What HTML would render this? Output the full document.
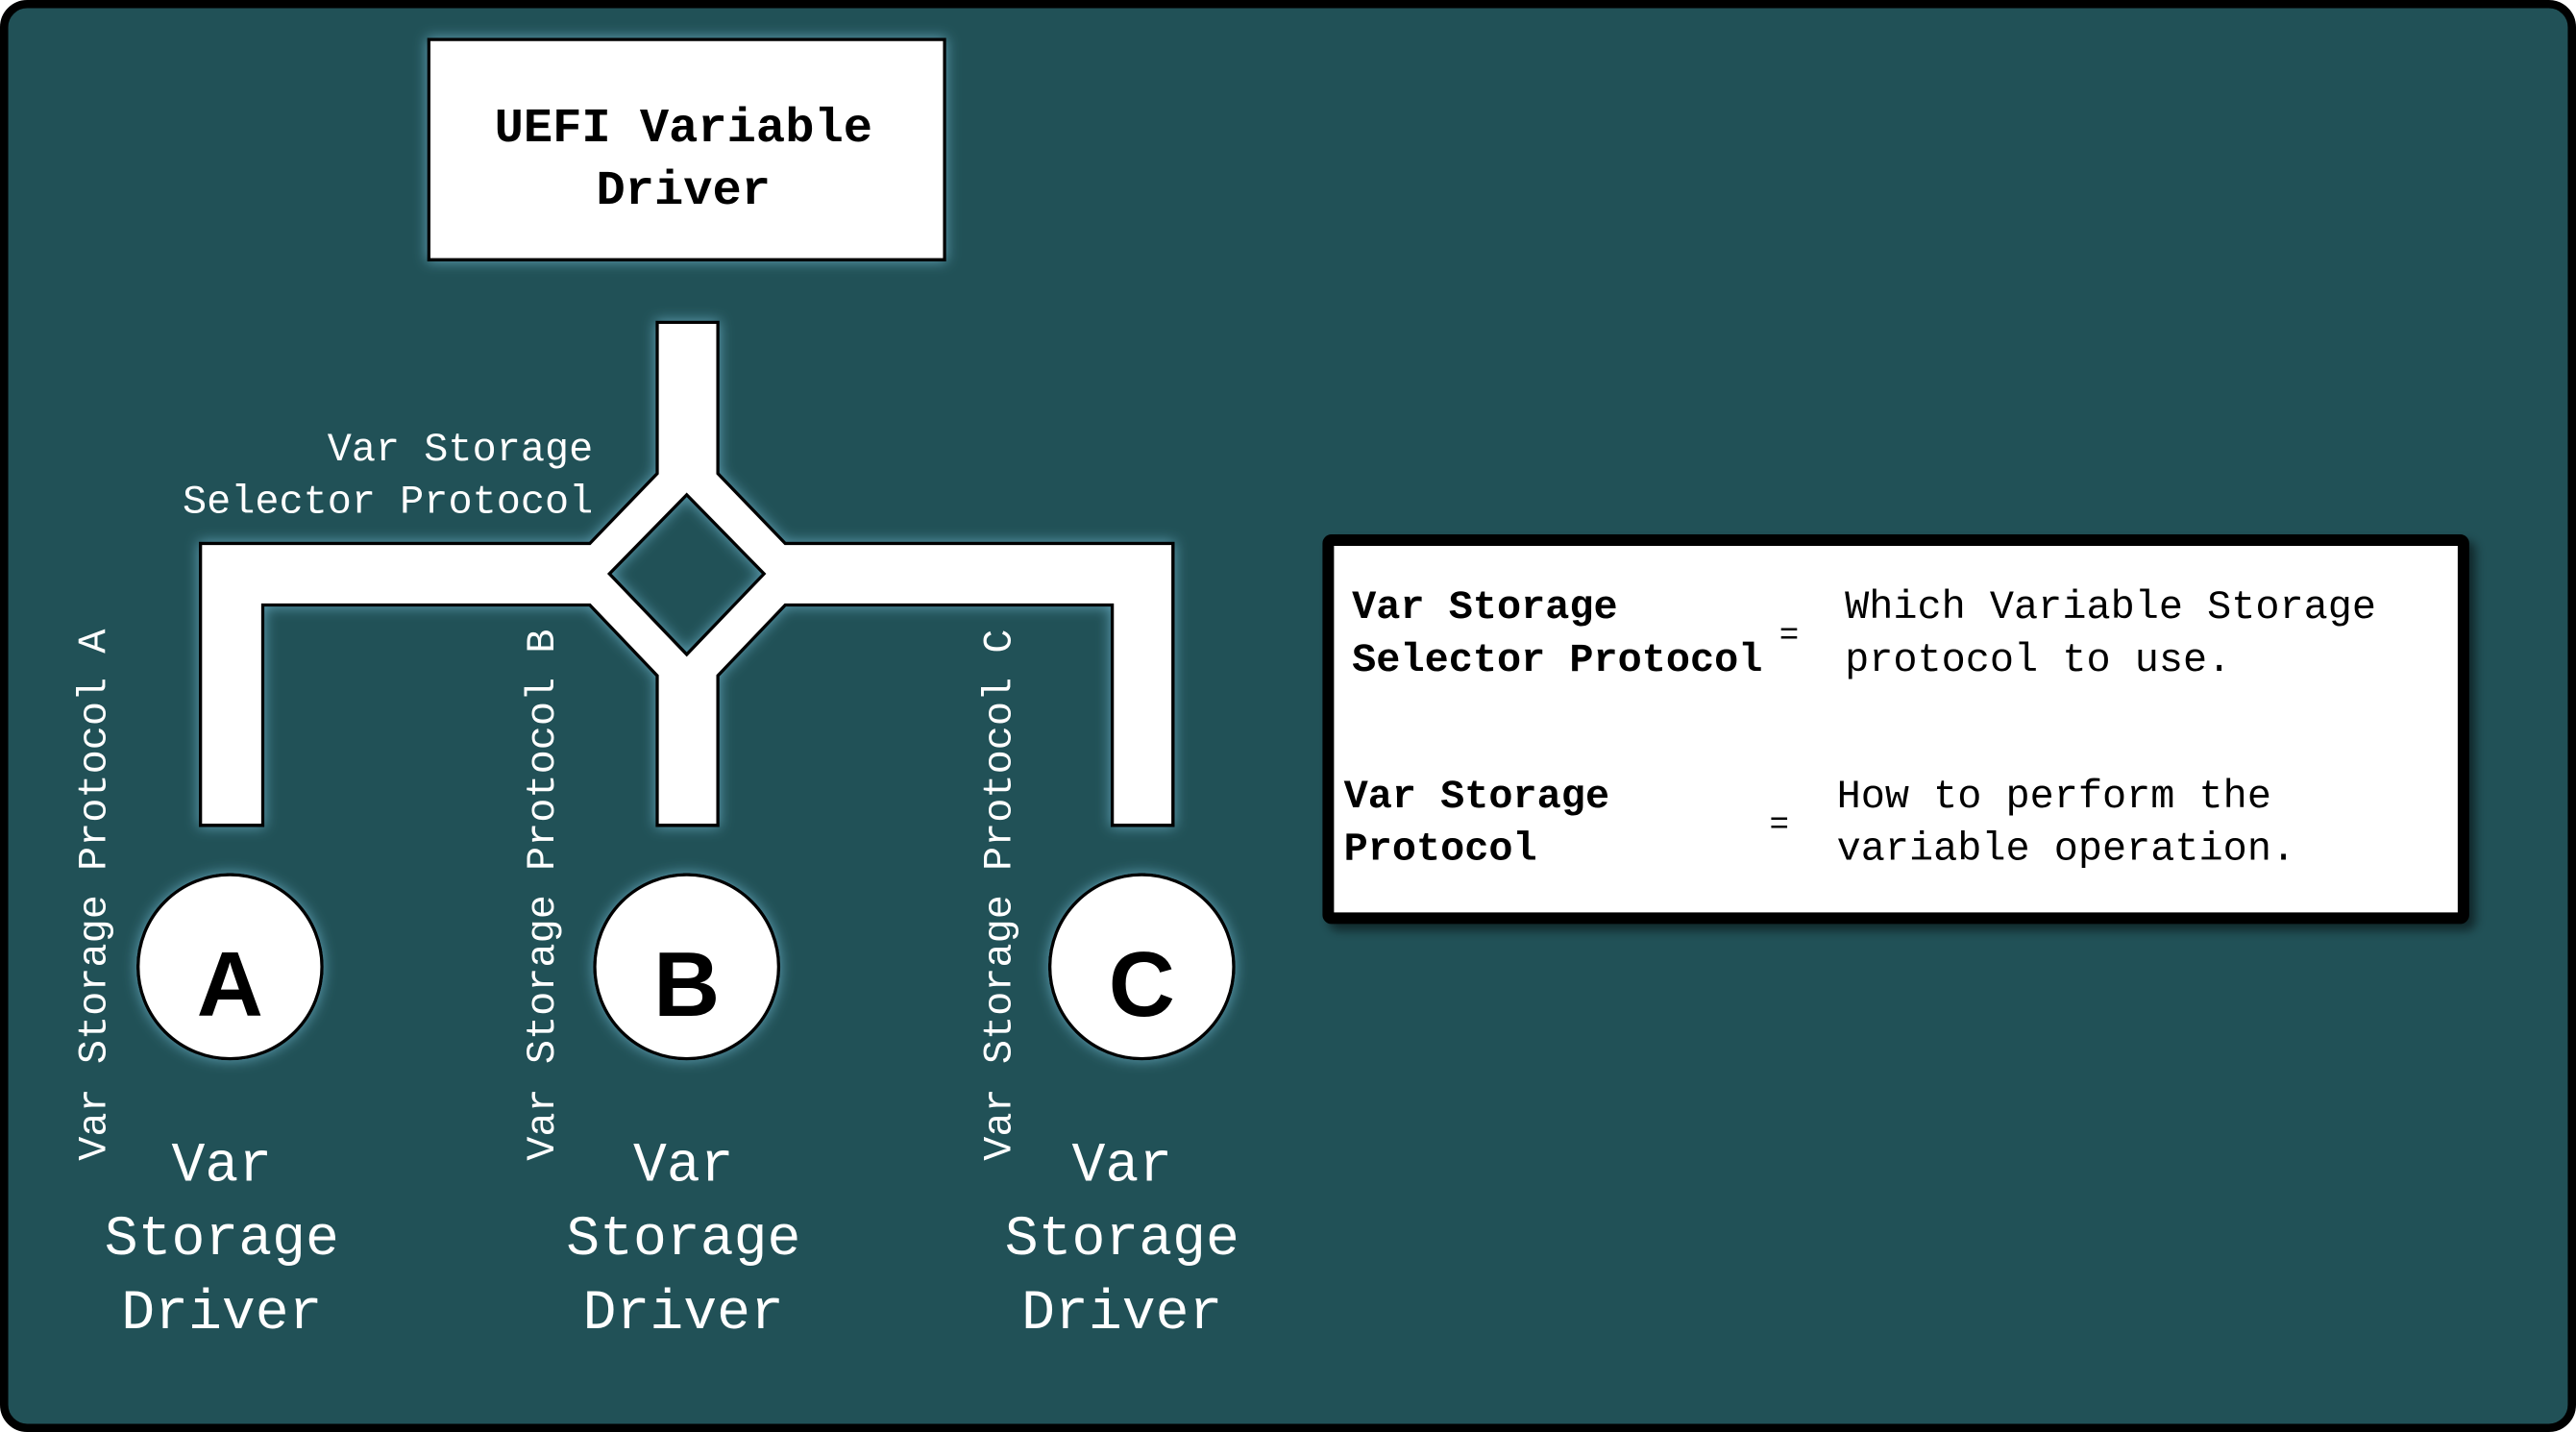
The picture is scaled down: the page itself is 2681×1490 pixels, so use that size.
<!DOCTYPE html>
<html><head><meta charset="utf-8"><style>
html,body{margin:0;padding:0;background:#fff;}
svg{display:block;}
text{font-family:"Liberation Mono",monospace;}
</style></head><body>
<svg width="2681" height="1490" viewBox="0 0 1568 871" preserveAspectRatio="none" xmlns="http://www.w3.org/2000/svg">
<defs>
<filter id="g" x="-20%" y="-20%" width="140%" height="140%">
<feDropShadow dx="0" dy="0" stdDeviation="4" flood-color="#6fb4cc" flood-opacity="0.8"/>
</filter>
<filter id="s" x="-10%" y="-10%" width="130%" height="130%">
<feDropShadow dx="4" dy="4" stdDeviation="3" flood-color="#000" flood-opacity="0.5"/>
</filter>
</defs>
<rect x="0" y="0" width="1568" height="871" fill="#fff"/>
<rect x="2.5" y="2.5" width="1563" height="866" rx="14" fill="#215157" stroke="#000" stroke-width="5"/>

<rect x="261" y="24" width="314" height="134" fill="#fff" stroke="#000" stroke-width="2" filter="url(#g)"/>
<text x="416" y="86" font-size="29.5" font-weight="bold" text-anchor="middle" fill="#000">UEFI Variable</text>
<text x="416" y="124" font-size="29.5" font-weight="bold" text-anchor="middle" fill="#000">Driver</text>

<path fill="#fff" stroke="#000" stroke-width="2" filter="url(#g)" fill-rule="evenodd"
d="M400,196 L437,196 L437,288 L478,330.5 L714,330.5 L714,502 L677,502 L677,368 L478,368 L437,411 L437,502 L400,502 L400,411 L359,368 L160,368 L160,502 L122,502 L122,330.5 L359,330.5 L400,288 Z
M418,301 L465,349 L418,398 L371,349 Z"/>

<text x="361" y="280" font-size="24.5" text-anchor="end" fill="#fff">Var Storage</text>
<text x="361" y="312" font-size="24.5" text-anchor="end" fill="#fff">Selector Protocol</text>

<g font-size="24.5" fill="#fff">
<text transform="translate(64,706) rotate(-90)">Var Storage Protocol A</text>
<text transform="translate(337,706) rotate(-90)">Var Storage Protocol B</text>
<text transform="translate(615,706) rotate(-90)">Var Storage Protocol C</text>
</g>

<g fill="#fff" stroke="#000" stroke-width="2" filter="url(#g)">
<circle cx="140" cy="588" r="56"/>
<circle cx="418" cy="588" r="56"/>
<circle cx="695" cy="588" r="56"/>
</g>
<g font-family="'Liberation Sans',sans-serif" font-weight="bold" font-size="56" text-anchor="middle" fill="#000">
<text x="140" y="618" style="font-family:'Liberation Sans',sans-serif">A</text>
<text x="418" y="618" style="font-family:'Liberation Sans',sans-serif">B</text>
<text x="695" y="618" style="font-family:'Liberation Sans',sans-serif">C</text>
</g>

<g font-size="34" fill="#fff" text-anchor="middle">
<text x="135" y="718">Var</text><text x="135" y="763">Storage</text><text x="135" y="808">Driver</text>
<text x="416" y="718">Var</text><text x="416" y="763">Storage</text><text x="416" y="808">Driver</text>
<text x="683" y="718">Var</text><text x="683" y="763">Storage</text><text x="683" y="808">Driver</text>
</g>

<rect x="808.5" y="328.5" width="691" height="230" fill="#fff" stroke="#000" stroke-width="7" rx="2" filter="url(#s)"/>
<g font-size="24.5" fill="#000">
<text x="823" y="376" font-weight="bold">Var Storage</text>
<text x="823" y="408" font-weight="bold">Selector Protocol</text>
<text x="1083" y="392" font-size="20">=</text>
<text x="1123" y="376">Which Variable Storage</text>
<text x="1123" y="408">protocol to use.</text>
<text x="818" y="491" font-weight="bold">Var Storage</text>
<text x="818" y="523" font-weight="bold">Protocol</text>
<text x="1077" y="507" font-size="20">=</text>
<text x="1118" y="491">How to perform the</text>
<text x="1118" y="523">variable operation.</text>
</g>
</svg>
</body></html>
